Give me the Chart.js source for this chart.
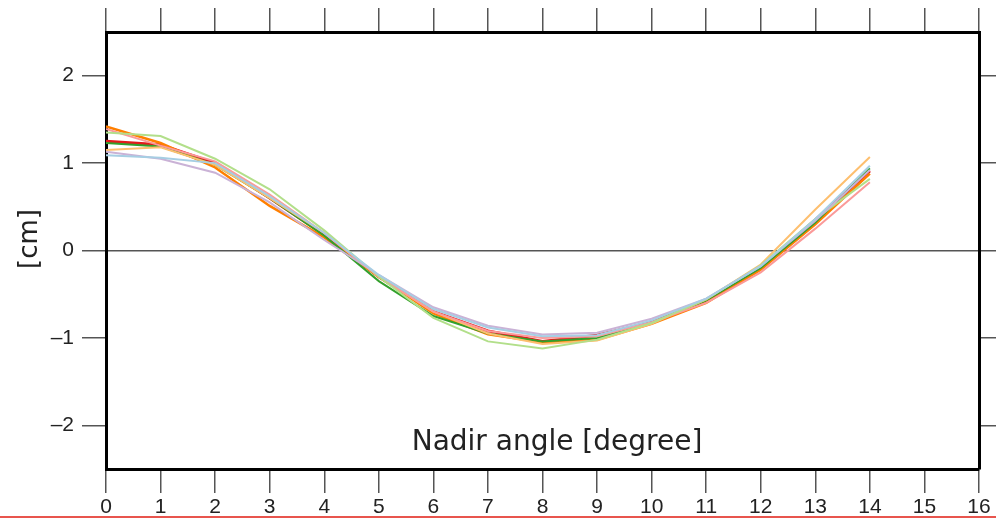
<!DOCTYPE html>
<html>
<head>
<meta charset="utf-8">
<script src="https://cdn.jsdelivr.net/npm/chart.js@4/dist/chart.umd.min.js"></script>
<style>
  html, body { margin: 0; padding: 0; background: #fff; overflow: hidden; }
  #wrap { position: relative; width: 996px; height: 519px; }
  #redline { position: absolute; left: 0; top: 516px; width: 996px; height: 2px; background: #e8554e; }
</style>
</head>
<body>
<div id="wrap">
  <canvas id="chart" width="996" height="519"></canvas>
  <div id="redline"></div>
</div>
<script>
// nadir angle in degrees
const angles = [0, 1, 2, 3, 4, 5, 6, 7, 8, 9, 10, 11, 12, 13, 14];

// tick positions
const xTicks = [0, 1, 2, 3, 4, 5, 6, 7, 8, 9, 10, 11, 12, 13, 14, 15, 16];
const yTicks = [-2, -1, 0, 1, 2];

// correction curves [cm], one per series
const lightBlue   = [1.09, 1.06, 1.00, 0.62, 0.20, -0.28, -0.67, -0.88, -0.98, -0.97, -0.80, -0.55, -0.18, 0.36, 0.97];
const lightPurple = [1.13, 1.05, 0.89, 0.55, 0.12, -0.28, -0.65, -0.86, -0.96, -0.94, -0.78, -0.55, -0.18, 0.34, 0.92];
const lightGreen  = [1.35, 1.31, 1.05, 0.70, 0.23, -0.30, -0.77, -1.04, -1.12, -1.02, -0.83, -0.56, -0.17, 0.36, 0.82];
const pink        = [1.39, 1.20, 1.02, 0.64, 0.20, -0.30, -0.70, -0.92, -1.00, -0.98, -0.82, -0.60, -0.25, 0.25, 0.78];
const lightOrange = [1.15, 1.18, 0.98, 0.60, 0.20, -0.30, -0.70, -0.95, -1.07, -1.03, -0.84, -0.56, -0.16, 0.47, 1.07];
const green       = [1.23, 1.19, 0.98, 0.60, 0.17, -0.35, -0.75, -0.95, -1.04, -1.00, -0.83, -0.57, -0.20, 0.32, 0.94];
const orange      = [1.42, 1.23, 0.95, 0.51, 0.15, -0.30, -0.72, -0.96, -1.05, -1.02, -0.84, -0.60, -0.22, 0.30, 0.88];
const red         = [1.25, 1.21, 1.00, 0.60, 0.18, -0.30, -0.70, -0.92, -1.04, -0.97, -0.82, -0.57, -0.20, 0.35, 0.91];

const series = [
  { data: lightBlue,   color: '#a6cee3', width: 2 },
  { data: lightPurple, color: '#cab2d6', width: 2 },
  { data: lightGreen,  color: '#b2df8a', width: 2 },
  { data: pink,        color: '#fb9a99', width: 2 },
  { data: lightOrange, color: '#fdbf6f', width: 2 },
  { data: green,       color: '#33a02c', width: 2 },
  { data: orange,      color: '#ff7f00', width: 2.5 },
  { data: red,         color: '#e31a1c', width: 3 }
];

const TICK_FONT = { family: '"Liberation Sans", Arial, sans-serif', size: 21 };
const TICK_COLOR = '#555';

const fmt = (v) => (v < 0 ? '\u2013' + Math.abs(v) : String(v));

// labels drawn inside / beside the frame
const labelsPlugin = {
  id: 'labels',
  afterDraw(chart) {
    const { ctx, chartArea } = chart;
    ctx.save();
    ctx.fillStyle = '#222';
    ctx.font = '28px "DejaVu Sans", sans-serif';
    ctx.textAlign = 'center';
    ctx.textBaseline = 'middle';
    ctx.fillText('Nadir angle [degree]', 557, chartArea.bottom - 26);
    ctx.translate(30, 239);
    ctx.rotate(-Math.PI / 2);
    ctx.font = '26px "DejaVu Sans", sans-serif';
    ctx.fillText('[cm]', 0, 0);
    ctx.restore();
  }
};

const frameAxis = (tickValues, extra) => Object.assign({
  type: 'linear',
  border: { display: true, color: '#000', width: 3 },
  grid: { drawOnChartArea: false, drawTicks: true, tickLength: 24, tickColor: TICK_COLOR, lineWidth: 1.5 },
  afterBuildTicks: (scale) => { scale.ticks = tickValues.map(v => ({ value: v })); }
}, extra);

new Chart(document.getElementById('chart'), {
  type: 'line',
  data: {
    datasets: series.map(s => ({
      data: angles.map((a, i) => ({ x: a, y: s.data[i] })),
      borderColor: s.color,
      borderWidth: s.width,
      pointRadius: 0,
      tension: 0,
      fill: false
    }))
  },
  options: {
    responsive: false,
    animation: false,
    layout: { padding: 0 },
    plugins: { legend: { display: false }, tooltip: { enabled: false } },
    scales: {
      x: frameAxis(xTicks, {
        position: 'bottom', min: 0, max: 16,
        ticks: { padding: 2, color: '#222', font: TICK_FONT, maxRotation: 0, autoSkip: false },
        afterFit: (s) => { s.height = 50; }
      }),
      xTop: frameAxis(xTicks, {
        position: 'top', min: 0, max: 16,
        ticks: { display: false },
        afterFit: (s) => { s.height = 32; }
      }),
      y: frameAxis(yTicks, {
        position: 'left', min: -2.5, max: 2.5,
        ticks: { padding: 8, color: '#222', font: TICK_FONT, callback: fmt },
        grid: {
          drawOnChartArea: true, drawTicks: true, tickLength: 24, tickColor: TICK_COLOR, lineWidth: 1.5,
          color: (c) => (c.tick && c.tick.value === 0 ? '#555' : 'rgba(0,0,0,0)')
        },
        afterFit: (s) => { s.width = 106; }
      }),
      yRight: frameAxis(yTicks, {
        position: 'right', min: -2.5, max: 2.5,
        ticks: { display: false },
        afterFit: (s) => { s.width = 17; }
      })
    }
  },
  plugins: [labelsPlugin]
});
</script>
</body>
</html>
